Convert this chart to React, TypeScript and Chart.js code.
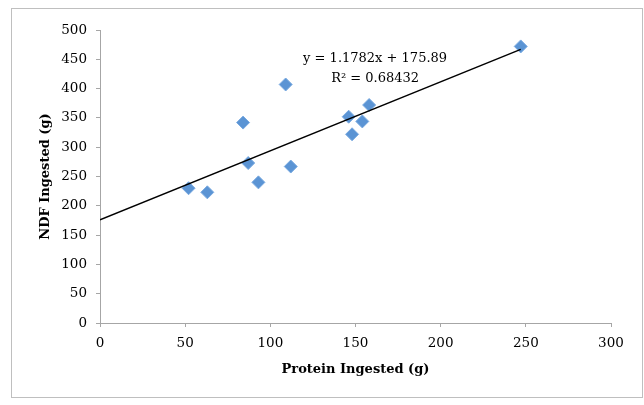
import React, { useEffect, useRef } from "react";
import { Chart, registerables } from "chart.js";

Chart.register(...registerables);

const proteinIngested = [52, 63, 84, 87, 93, 109, 112, 146, 148, 154, 158, 247];
const ndfIngested = [230, 223, 342, 273, 240, 407, 267, 352, 322, 344, 372, 472];
const slope = 1.1782;
const intercept = 175.89;
const trendX = [0, 247];
const equationLines = ["y = 1.1782x + 175.89", "R² = 0.68432"];
const xTicks = [0, 50, 100, 150, 200, 250, 300];
const yTicks = [0, 50, 100, 150, 200, 250, 300, 350, 400, 450, 500];
const xTitle = "Protein Ingested (g)";
const yTitle = "NDF Ingested (g)";

const FONT = "'DejaVu Serif', serif";

const equationPlugin = {
  id: "equationLabel",
  afterDatasetsDraw(chart: any) {
    const { ctx, scales } = chart;
    const x = scales.x.getPixelForValue(161.5);
    const y1 = scales.y.getPixelForValue(451);
    const y2 = scales.y.getPixelForValue(417);
    ctx.save();
    ctx.fillStyle = "#000";
    ctx.font = `13px ${FONT}`;
    ctx.textAlign = "center";
    ctx.textBaseline = "middle";
    ctx.fillText(equationLines[0], x, y1);
    ctx.fillText(equationLines[1], x, y2);
    ctx.restore();
  },
};

export default function App() {
  const ref = useRef<HTMLCanvasElement>(null);

  useEffect(() => {
    if (!ref.current) return;
    const points = proteinIngested.map((x, i) => ({ x, y: ndfIngested[i] }));
    const trend = trendX.map((x) => ({ x, y: slope * x + intercept }));
    const axisGrey = "#a6a6a6";
    const chart = new Chart(ref.current, {
      type: "scatter",
      data: {
        datasets: [
          {
            type: "scatter",
            data: points,
            pointStyle: "rectRot",
            pointRadius: 6.5,
            pointHoverRadius: 6.5,
            backgroundColor: "#5b94d4",
            borderColor: "#7aaae0",
            borderWidth: 1,
            order: 2,
          },
          {
            type: "line",
            data: trend,
            borderColor: "#000",
            borderWidth: 1.5,
            pointRadius: 0,
            fill: false,
            order: 1,
          } as any,
        ],
      },
      options: {
        animation: false,
        responsive: false,
        devicePixelRatio: 1,
        layout: { padding: { left: 0, right: 33, top: 30, bottom: 0 } },
        plugins: { legend: { display: false }, tooltip: { enabled: false } },
        scales: {
          x: {
            type: "linear",
            min: 0,
            max: 300,
            afterBuildTicks: (s: any) => {
              s.ticks = xTicks.map((v) => ({ value: v }));
            },
            afterFit: (s: any) => {
              s.height = 82;
            },
            ticks: {
              font: { family: FONT, size: 13.5 },
              color: "#000",
              padding: 8,
              maxRotation: 0,
            },
            grid: {
              display: true,
              drawOnChartArea: false,
              drawTicks: true,
              tickLength: 4,
              color: axisGrey,
            },
            border: { display: true, color: axisGrey, width: 1 },
            title: {
              display: true,
              text: xTitle,
              font: { family: FONT, size: 13, weight: "bold" },
              color: "#000",
              padding: { top: 0, bottom: 28 },
            },
          },
          y: {
            type: "linear",
            min: 0,
            max: 500,
            afterBuildTicks: (s: any) => {
              s.ticks = yTicks.map((v) => ({ value: v }));
            },
            afterFit: (s: any) => {
              s.width = 100;
            },
            ticks: {
              font: { family: FONT, size: 13.5 },
              color: "#000",
              padding: 9,
            },
            grid: {
              display: true,
              drawOnChartArea: false,
              drawTicks: true,
              tickLength: 4,
              color: axisGrey,
            },
            border: { display: true, color: axisGrey, width: 1 },
            title: {
              display: true,
              text: yTitle,
              font: { family: FONT, size: 13, weight: "bold" },
              color: "#000",
              padding: { top: 38, bottom: 0 },
            },
          },
        },
      },
      plugins: [equationPlugin],
    });
    return () => chart.destroy();
  }, []);

  return (
    <div
      style={{
        position: "fixed",
        left: 0,
        top: 0,
        width: 644,
        height: 405,
        overflow: "hidden",
        background: "#fff",
      }}
    >
      <div
        style={{
          position: "absolute",
          left: 11,
          top: 8,
          width: 632,
          height: 390,
          border: "1px solid #bfbfbf",
          boxSizing: "border-box",
        }}
      />
      <canvas
        ref={ref}
        width={644}
        height={405}
        style={{ position: "absolute", left: 0, top: 0, width: 644, height: 405 }}
      />
    </div>
  );
}
